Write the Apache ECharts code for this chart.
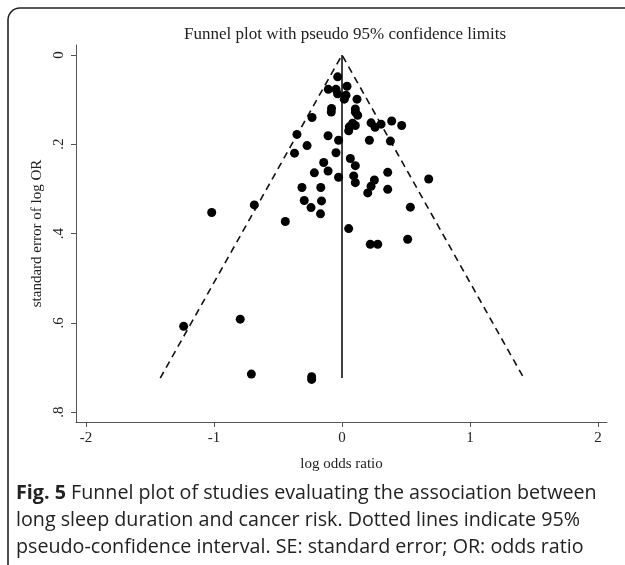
<!DOCTYPE html>
<html>
<head>
<meta charset="utf-8">
<script src="https://cdn.jsdelivr.net/npm/echarts@6/dist/echarts.min.js"></script>
<style>
  html, body { margin: 0; padding: 0; background: #fff; }
  #chart { width: 625px; height: 565px; }
</style>
</head>
<body>
<div id="chart"></div>
<script>
// study estimates: log odds ratio and its standard error
const logOR = [
    -0.034, 0.039, -0.107, -0.047, -0.035, 0.031, 0.018, 0.117, -0.082, -0.084,
    0.104, 0.104, 0.122, -0.234, -0.352, -0.109, -0.027, -0.273, -0.371, -0.047,
    -0.143, -0.216, -0.109, -0.027, -0.313, -0.166, -0.295, -0.160, -0.242, -0.168,
    -0.685, -1.018, -0.443, 0.083, 0.057, 0.052, 0.104, 0.227, 0.305, 0.258,
    0.388, 0.466, 0.214, 0.378, 0.065, 0.104, 0.091, 0.104, 0.357, 0.253,
    0.227, 0.201, 0.357, 0.677, 0.534, 0.052, 0.513, 0.221, 0.279, -1.237,
    -0.795, -0.708, -0.237, -0.237
];
const seLogOR = [
    0.049, 0.070, 0.077, 0.077, 0.087, 0.090, 0.099, 0.099, 0.120, 0.128,
    0.121, 0.128, 0.135, 0.140, 0.178, 0.181, 0.191, 0.203, 0.220, 0.219,
    0.241, 0.264, 0.260, 0.274, 0.297, 0.297, 0.326, 0.327, 0.342, 0.356,
    0.336, 0.353, 0.373, 0.153, 0.161, 0.170, 0.158, 0.152, 0.155, 0.162,
    0.148, 0.158, 0.191, 0.193, 0.232, 0.248, 0.271, 0.286, 0.263, 0.280,
    0.294, 0.309, 0.301, 0.278, 0.341, 0.389, 0.413, 0.424, 0.424, 0.608,
    0.592, 0.715, 0.721, 0.727
];

// pseudo 95% confidence limits (funnel) and pooled estimate line
const funnelX = [-1.42, 0, 1.42];
const funnelSE = [0.724, 0, 0.724];
const pooledX = [0, 0];
const pooledSE = [0, 0.724];

const xTicks = [-2, -1, 0, 1, 2];
const yTicks = [0, 0.2, 0.4, 0.6, 0.8];

const serif = '"Liberation Serif", "DejaVu Serif", serif';
const sans = '"Open Sans", "Noto Sans", sans-serif';
const axisGray = '#555';

const chart = echarts.init(document.getElementById('chart'));

const points = logOR.map(function (x, i) { return [x, seLogOR[i]]; });
const funnel = funnelX.map(function (x, i) { return [x, funnelSE[i]]; });
const pooled = pooledX.map(function (x, i) { return [x, pooledSE[i]]; });

const options = {
    animation: false,
    backgroundColor: '#fff',
    title: {
        text: 'Funnel plot with pseudo 95% confidence limits',
        left: 340,
        top: 21,
        textAlign: 'center',
        textStyle: {
            fontFamily: serif,
            fontWeight: 'normal',
            fontSize: 17,
            color: '#222'
        }
    },
    grid: {
        left: 76,
        right: 18,
        top: 45,
        bottom: 143
    },
    xAxis: {
        type: 'value',
        min: -2.078,
        max: 2.07,
        name: 'log odds ratio',
        nameLocation: 'middle',
        nameGap: 35,
        nameTextStyle: { fontFamily: serif, fontSize: 15, color: '#222' },
        splitLine: { show: false },
        axisLine: { show: true, onZero: false, lineStyle: { color: axisGray, width: 1 } },
        axisTick: { show: true, length: 5, customValues: xTicks, lineStyle: { color: axisGray } },
        axisLabel: {
            customValues: xTicks,
            margin: 9,
            fontFamily: serif,
            fontSize: 15,
            color: '#222'
        }
    },
    yAxis: {
        type: 'value',
        inverse: true,
        min: -0.0224,
        max: 0.8224,
        name: 'standard error of log OR',
        nameLocation: 'middle',
        nameGap: 27,
        nameTextStyle: { fontFamily: serif, fontSize: 15, color: '#222' },
        splitLine: { show: false },
        axisLine: { show: true, onZero: false, lineStyle: { color: axisGray, width: 1 } },
        axisTick: { show: true, length: 5, customValues: yTicks, lineStyle: { color: axisGray } },
        axisLabel: {
            customValues: yTicks,
            rotate: 90,
            margin: 9,
            fontFamily: serif,
            fontSize: 15,
            color: '#222',
            formatter: function (v) {
                return v === 0 ? '0' : String(v).replace(/^0/, '');
            }
        }
    },
    series: [
        {
            type: 'line',
            data: funnel,
            symbol: 'none',
            lineStyle: { color: '#111', width: 1.6, type: [7, 5] },
            z: 2
        },
        {
            type: 'line',
            data: pooled,
            symbol: 'none',
            lineStyle: { color: '#111', width: 1.6 },
            z: 2
        },
        {
            type: 'scatter',
            data: points,
            symbol: 'circle',
            symbolSize: 9,
            itemStyle: { color: '#000', opacity: 1 },
            z: 3
        }
    ],
    graphic: [
        {
            type: 'rect',
            shape: { x: 8, y: 8, width: 660, height: 600, r: 12 },
            style: { fill: 'none', stroke: '#222', lineWidth: 1.6 },
            silent: true
        },
        {
            type: 'text',
            left: 16,
            top: 480,
            style: {
                text: '{b|Fig. 5} Funnel plot of studies evaluating the association between\nlong sleep duration and cancer risk. Dotted lines indicate 95%\npseudo-confidence interval. SE: standard error; OR: odds ratio',
                fontFamily: sans,
                fontSize: 19.7,
                lineHeight: 27,
                fill: '#222',
                rich: {
                    b: {
                        fontFamily: sans,
                        fontSize: 19.7,
                        fontWeight: 'bold',
                        fill: '#222'
                    }
                }
            }
        }
    ]
};

chart.setOption(options);
window.onresize = function () {
    chart.resize();
};
</script>
</body>
</html>
